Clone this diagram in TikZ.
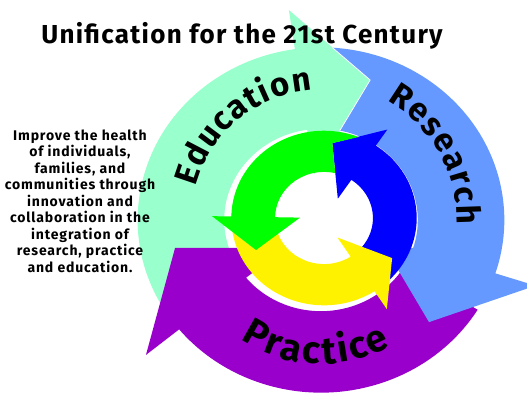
\documentclass[tikz,border=0pt]{standalone}
\usepackage{fontspec}
\setmainfont{Fira Sans}
\usetikzlibrary{decorations.text}
\definecolor{edu}{HTML}{99FFCC}
\definecolor{res}{HTML}{6699FF}
\definecolor{prac}{HTML}{9900CC}
\newcommand\wordfont{\bfseries\fontsize{33}{33}\selectfont}
\newcommand\pracfont{\bfseries\fontsize{38}{38}\selectfont}

\begin{document}
\begin{tikzpicture}[x=1pt, y=1pt,
    word/.style={decorate, decoration={text along path, text align={fit to path}, text={#1}}}]
  \useasboundingbox (0,0) rectangle (527,-394);
  \fill[white] (0,0) rectangle (527,-394);
  % outer ring: education, practice, research
  \begin{scope}[shift={(321,-220)}, xscale=1.03, yscale=0.97]
    \fill[edu] (215:94) -- (215:178) arc[start angle=215, end angle=98.2, radius=178]
      -- (98.2:218.7) -- (71.7:152) -- (98.2:47.6) -- (98.2:94)
      arc[start angle=98.2, end angle=215, radius=94] -- cycle;
    \fill[prac] (-31.3:94) -- (-31.3:178) arc[start angle=-31.3, end angle=-140.7, radius=178]
      -- (-140.7:219.6) -- (-168.5:144.6) -- (-140.7:45.6) -- (-140.7:94)
      arc[start angle=-140.7, end angle=-31.3, radius=94] -- cycle;
    \fill[res] (78.8:94) -- (71.7:152) -- (86.4:178) arc[start angle=86.4, end angle=-18, radius=178]
      -- (-18:219) -- (-45.1:148.6) -- (-18:59.3) -- (-18:94)
      arc[start angle=-18, end angle=78.8, radius=94] -- cycle;
    \draw[white, line width=0.8pt] (78.8:94) -- (71.7:152) -- (86.4:178);
  \end{scope}
  % inner ring
  \begin{scope}[shift={(324,-218)}, xscale=1.03, yscale=0.97]
    \fill[blue] (-53:47.5) arc[start angle=-53, end angle=56, radius=47.5]
      -- (56:24) -- (84:77.6) -- (56:110) -- (56:90)
      arc[start angle=56, end angle=-53, radius=90] -- cycle;
    \fill[yellow] (178:47.5) arc[start angle=178, end angle=303, radius=47.5]
      -- (303:24) -- (328:78) -- (303:112) -- (303:90)
      arc[start angle=303, end angle=178, radius=90] -- cycle;
    \fill[green] (76.7:47.5) arc[start angle=76.7, end angle=179, radius=47.5]
      -- (179:23.3) -- (206.6:73.8) -- (179:108.7) -- (179:90)
      arc[start angle=179, end angle=68.1, radius=90] -- (84:77.6) -- cycle;
  \end{scope}
  % words along the ring
  \begin{scope}[shift={(321,-220)}]
    \path[word={|\wordfont|Education}] (165:130) arc[start angle=165, end angle=94, radius=130];
    \path[word={|\wordfont|Research}] (61:136) arc[start angle=61, end angle=-2, radius=136];
    \path[word={|\pracfont|Practice}] (236:144) arc[start angle=236, end angle=299, radius=144];
  \end{scope}
  \node[font=\bfseries\fontsize{26}{26}\selectfont\addfontfeature{LetterSpace=5}, anchor=base] (title)
    at (242,-43) {Unification for the 21st Century};
  \node[font=\bfseries\fontsize{14}{16.5}\selectfont\addfontfeature{LetterSpace=6}, align=center] (aim)
    at (80,-201) {Improve the health\\ of individuals,\\ families, and\\ communities through\\ innovation and\\
     collaboration in the\\ integration of\\ research, practice\\ and education.};
\end{tikzpicture}
\end{document}
